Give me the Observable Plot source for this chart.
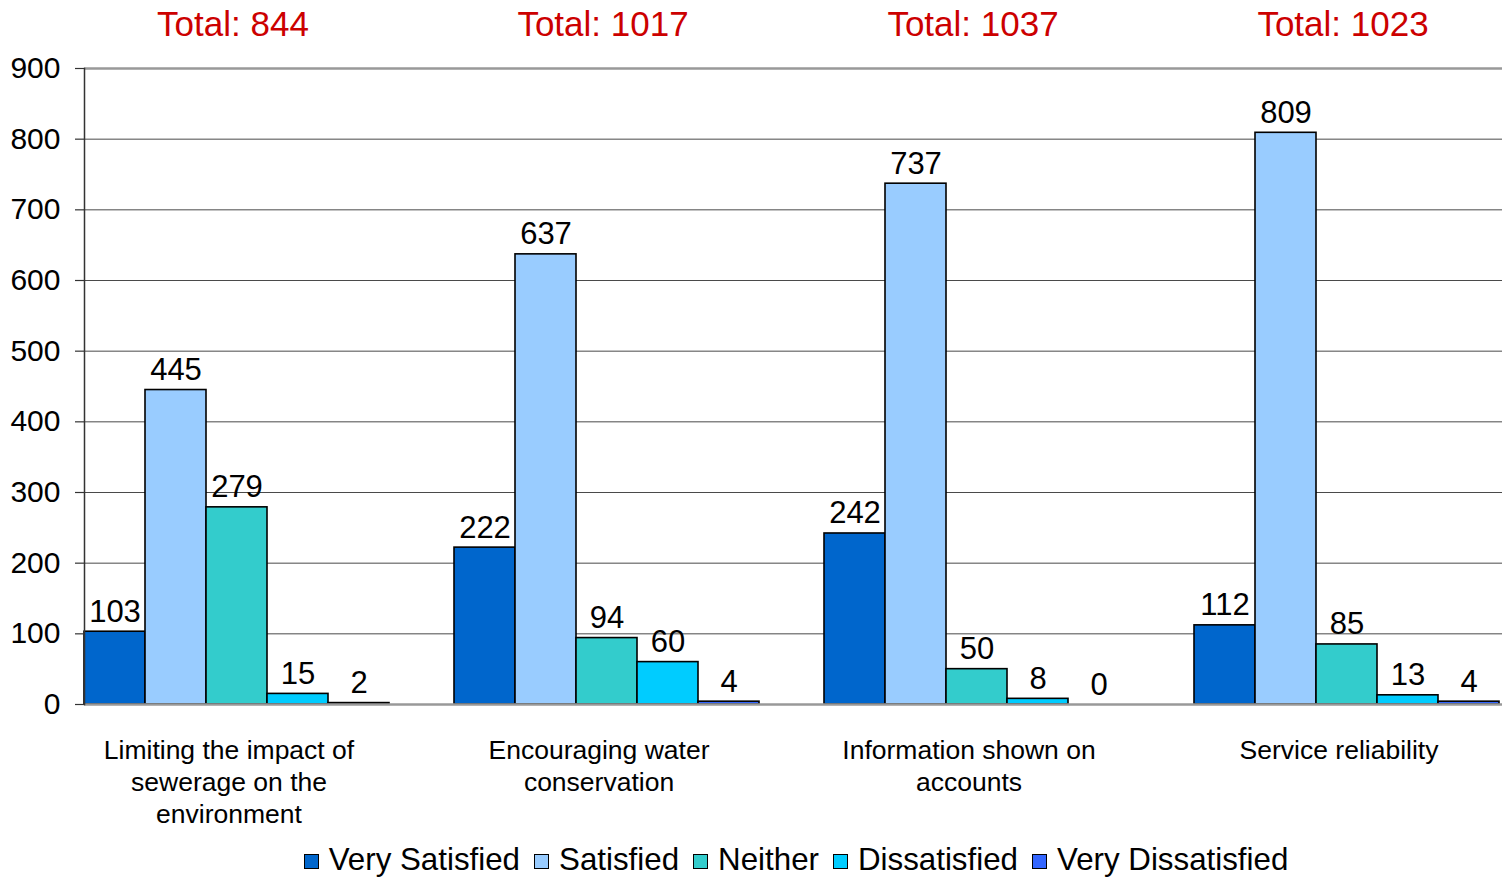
<!DOCTYPE html>
<html><head><meta charset="utf-8">
<script src="https://cdn.jsdelivr.net/npm/d3@7"></script>
<script src="https://cdn.jsdelivr.net/npm/@observablehq/plot@0.6"></script>
<style>
html,body{margin:0;padding:0;background:#fff;}
body{width:1502px;height:877px;overflow:hidden;font-family:"Liberation Sans",Arial,sans-serif;}
#chart svg{overflow:hidden;display:block;}
#legend{display:flex;justify-content:center;align-items:center;height:34px;font-size:31.3px;color:#000;padding-left:90px;}
#legend .item{display:flex;align-items:center;margin:0 7px;}
#legend .sw{width:13px;height:13px;border:1.5px solid #000;margin-right:10px;margin-top:3px;}
</style></head>
<body><div id="chart"></div><div id="legend"></div>
<script>
const categories = ["Limiting the impact of\nsewerage on the\nenvironment", "Encouraging water\nconservation", "Information shown on\naccounts", "Service reliability"];
const series = ["Very Satisfied", "Satisfied", "Neither", "Dissatisfied", "Very Dissatisfied"];
const colors = ["#0066CC", "#99CCFF", "#33CCCC", "#00CCFF", "#3366FF"];
const verySatisfied = [103, 222, 242, 112];
const satisfied = [445, 637, 737, 809];
const neither = [279, 94, 50, 85];
const dissatisfied = [15, 60, 8, 13];
const veryDissatisfied = [2, 4, 0, 4];
const totals = [844, 1017, 1037, 1023];
const yTicks = [0, 100, 200, 300, 400, 500, 600, 700, 800, 900];

const seriesValues = [verySatisfied, satisfied, neither, dissatisfied, veryDissatisfied];
const data = [];
categories.forEach((c, i) => series.forEach((s, j) => data.push({category: c, series: s, value: seriesValues[j][i]})));
const groupData = categories.map((c, i) => ({category: c, total: totals[i]}));

const font = "Liberation Sans, Arial, sans-serif";
const chart = Plot.plot({
  width: 1502, height: 843,
  marginLeft: 84, marginRight: -62, marginTop: 68, marginBottom: 139,
  style: {fontFamily: font, fontSize: "28px", background: "white", color: "#000"},
  fx: {domain: categories, paddingInner: 0, paddingOuter: 0, axis: null, label: null},
  x: {domain: series, paddingInner: 0, paddingOuter: 0.5, align: 0, axis: null},
  y: {domain: [0, 900], axis: null},
  color: {domain: series, range: colors},
  marks: [
    Plot.ruleY(yTicks.filter(d => d > 0 && d < 900), {stroke: "#4a4a4a", strokeWidth: 1}),
    Plot.barY(data.filter(d => d.value > 0), {fx: "category", x: "series", y: "value", fill: "series", stroke: "#000", strokeWidth: 1.6}),
    Plot.ruleY([0, 900], {stroke: "#999", strokeWidth: 2.5}),
    Plot.frame({anchor: "left", stroke: "#333", strokeWidth: 1.5, facet: "super"}),
    Plot.axisY({ticks: yTicks, tickFormat: d => String(d), label: null, tickSize: 9, tickPadding: 15, fontSize: 30, stroke: "#333", strokeWidth: 1.2, fill: "#000"}),
    Plot.text(data, {fx: "category", x: "series", y: "value", text: d => String(d.value), lineAnchor: "bottom", dy: -10, fontSize: 31, fill: "#000"}),
    Plot.text(groupData, {fx: "category", x: () => "Neither", frameAnchor: "top", text: d => "Total: " + d.total, lineAnchor: "bottom", dy: -33, dx: -4, fontSize: 35, fill: "#CC0000"}),
    Plot.text(groupData, {fx: "category", x: () => "Neither", y: () => 0, text: "category", lineAnchor: "top", dy: 32, dx: -8, fontSize: 26.5, lineHeight: 1.21, fill: "#000"})
  ]
});
document.getElementById("chart").appendChild(chart);

const legend = document.getElementById("legend");
series.forEach((s, i) => {
  const item = document.createElement("div");
  item.className = "item";
  const sw = document.createElement("span");
  sw.className = "sw";
  sw.style.background = colors[i];
  const t = document.createElement("span");
  t.textContent = s;
  item.appendChild(sw); item.appendChild(t);
  legend.appendChild(item);
});
</script></body></html>
